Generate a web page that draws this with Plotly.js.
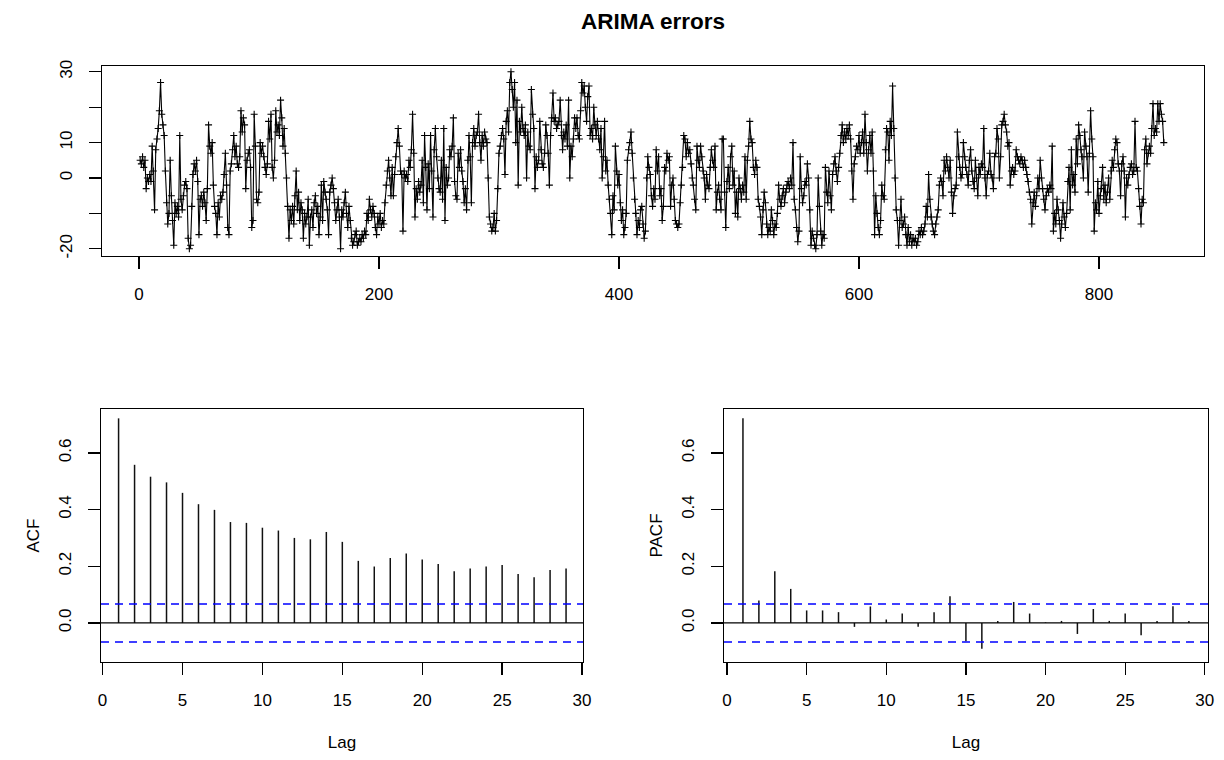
<!DOCTYPE html>
<html><head><meta charset="utf-8">
<script src="https://cdn.plot.ly/plotly-3.0.1.min.js"></script>
<style>html,body{margin:0;padding:0;background:#fff}#chart{width:1224px;height:760px}</style>
</head><body><div id="chart"></div>
<script>
// Residual series (ARIMA errors)
const errors = [
5,4,6,3,5,-3,0,-1,1,-1,
9,2,-9,8,11,14,19,27,18,15,
12,2,-7,-13,-10,5,-5,-12,-19,-7,
-10,-8,-11,12,-6,-9,-5,-2,-1,-3,
-17,-20,-19,-8,1,4,2,5,-1,-16,
-6,-5,-8,-4,-7,-12,-3,15,9,7,
10,-2,-8,-10,-16,-7,-11,-5,-6,-4,
1,7,-2,-14,-16,2,4,8,12,6,
9,4,3,6,19,13,17,15,-3,5,
7,8,3,-14,-12,18,9,-6,-7,-4,
10,7,9,6,3,1,4,16,11,18,
3,0,5,19,13,15,12,22,17,9,
14,7,0,-8,-17,-9,-12,-8,-13,-5,
2,-9,-4,-12,-7,-9,-17,-10,-13,-11,
-6,-19,-11,-9,-14,-7,-5,-10,-8,-16,
-11,-2,-12,-1,-4,-6,-9,-16,-4,-2,
0,-3,-7,-12,-9,-6,-11,-20,-9,-11,
-7,-4,-10,-14,-8,-12,-17,-19,-18,-16,
-15,-19,-18,-17,-18,-16,-17,-15,-16,-10,
-12,-6,-9,-11,-8,-10,-14,-16,-11,-13,
-10,-14,-12,-13,-7,-2,2,5,0,-5,
3,-5,1,6,10,14,9,2,1,-15,
2,0,1,-1,5,3,8,18,7,-11,
-3,-6,-1,-4,-2,5,-7,12,3,-9,
4,-3,12,2,-11,8,14,6,0,-3,
-4,5,-6,14,-12,3,-2,0,8,6,
9,17,-1,-5,-6,7,3,8,2,-1,
-7,-3,-9,5,12,6,-7,10,14,9,
12,13,18,10,5,12,9,13,11,10,
0,-11,-13,-15,-14,-10,-15,-12,-3,7,
9,12,14,11,1,16,19,13,27,30,
25,20,27,10,22,-2,16,13,20,14,
12,15,0,13,9,8,25,18,14,-3,
6,3,5,16,8,4,3,7,15,12,
7,-2,12,17,24,16,17,14,15,16,
22,12,8,13,11,15,9,22,0,9,
6,11,17,14,17,12,11,19,27,24,
26,20,16,23,26,12,14,11,20,15,
12,16,11,8,14,0,6,16,2,5,
-2,-6,-10,-16,-5,-9,9,2,-2,1,
-7,-12,-9,-16,-14,-10,5,8,10,13,
7,0,-6,-10,-16,-12,-14,-9,-8,-13,
-17,-15,0,6,3,1,-5,-8,-3,-6,
8,2,6,-5,-3,-12,-8,3,2,7,
5,6,-8,-2,0,-6,-12,-13,-14,-13,
-7,-2,3,12,11,6,10,7,8,4,
0,-2,-6,-9,9,5,3,9,6,2,
0,-6,1,-2,-3,3,8,5,3,9,
-9,-4,-2,-6,-9,11,11,-4,-14,-1,
3,-3,6,9,-2,2,-10,-4,-11,0,
-3,-6,-2,-4,6,-6,5,9,16,11,
10,3,1,5,3,-6,-8,-11,-16,-9,
-4,-7,-13,-16,-14,-15,-9,-12,-16,-13,
-14,-10,-2,-6,-8,-5,-3,-7,-4,-2,
-1,-3,0,-2,10,-6,-9,-14,-18,-15,
6,-3,-7,-5,-1,-2,4,0,-9,-19,
-15,-17,-19,-20,-16,0,-8,-15,-19,-16,
-17,3,-4,-7,2,-5,-9,1,4,6,
2,-1,3,7,12,15,10,13,11,14,
12,15,11,2,-6,4,6,9,8,12,
7,10,13,7,18,10,2,8,12,7,
13,2,-16,-5,-10,-14,-16,-12,-2,-5,
-6,8,14,13,5,16,12,26,14,0,
-9,-12,-19,-12,-6,-14,-13,-11,-16,-19,
-14,-18,-16,-19,-17,-18,-17,-19,-18,-15,
-16,-14,-16,-15,-13,-8,-11,1,-6,-11,
-13,-15,-16,-13,-11,-9,-2,0,-1,-5,
5,2,6,3,0,5,-4,-10,-5,-3,
-2,13,6,3,0,1,10,6,3,1,
-2,5,8,2,-1,-3,5,0,-5,3,
1,4,3,14,0,-5,1,2,7,1,
0,-3,6,7,14,11,0,6,15,16,
18,15,13,9,10,-2,2,3,1,2,
8,6,5,4,6,5,3,5,3,1,
-1,-4,-6,-13,-7,-4,-8,-5,0,-3,
5,0,-3,-6,-9,-5,-3,-4,-2,-3,
9,-15,-10,-13,-6,-9,-12,-17,-13,-7,
-11,-14,-10,-1,3,-9,8,-2,1,-4,
11,4,15,12,8,6,0,13,9,6,
-4,7,19,11,6,-15,-7,-9,-1,-10,
-5,-3,3,-6,-2,-7,-4,0,-6,2,
5,3,8,11,10,4,2,-5,4,6,
2,-11,0,-2,1,3,4,1,2,16,
3,2,-3,-8,-13,-6,-7,8,11,4,
7,9,7,14,21,12,14,13,21,16,
21,18,16,10
];
const lags = [1,2,3,4,5,6,7,8,9,10,11,12,13,14,15,16,17,18,19,20,21,22,23,24,25,26,27,28,29];
const acfValues = [0.722,0.558,0.516,0.496,0.459,0.419,0.399,0.356,0.353,0.336,0.326,0.300,0.295,0.321,0.286,0.219,0.199,0.229,0.245,0.224,0.208,0.182,0.192,0.199,0.204,0.173,0.161,0.187,0.192];
const pacfValues = [0.722,0.079,0.182,0.120,0.044,0.044,0.038,-0.014,0.058,0.012,0.033,-0.014,0.038,0.094,-0.065,-0.091,0.007,0.074,0.033,0.002,0.007,-0.039,0.049,0.007,0.033,-0.044,0.007,0.059,0.007];
const ciBound = 0.067;
const seriesTickVals = [0,200,400,600,800];
const seriesYTickVals = [-20,-10,0,10,20,30];
const seriesYTickText = ['-20','','0','10','','30'];
const lagTickVals = [0,5,10,15,20,25,30];
const corrTickVals = [0,0.2,0.4,0.6];
const corrTickText = ['0.0','0.2','0.4','0.6'];

const timeIndex = errors.map((_, i) => i + 1);
function spikes(vals, xa, ya) {
  const xs = [], ys = [];
  lags.forEach((k, i) => { xs.push(k, k, null); ys.push(0, vals[i], null); });
  return {x: xs, y: ys, xaxis: xa, yaxis: ya, type: 'scatter', mode: 'lines',
          line: {color: '#111', width: 1.5}, hoverinfo: 'skip', showlegend: false};
}

const FONT = 'Liberation Sans, Arial, sans-serif';
const W = 1224, H = 760;
const common = {
  showline: true, linecolor: 'black', linewidth: 1.3, mirror: true,
  ticks: 'outside', ticklen: 12, tickwidth: 1.3, tickcolor: 'black',
  showgrid: false, zeroline: false, fixedrange: true,
  tickfont: {family: FONT, size: 17, color: 'black'}
};
function xd(a, b) { return [a / W, b / W]; }
function yd(top, bottom) { return [1 - bottom / H, 1 - top / H]; }

const traces = [
  {x: timeIndex, y: errors, type: 'scatter', mode: 'lines+markers',
   line: {color: 'black', width: 1.1},
   marker: {symbol: 'cross-thin', size: 5, color: 'black', line: {color: 'black', width: 1.1}},
   xaxis: 'x', yaxis: 'y', showlegend: false},
  spikes(acfValues, 'x2', 'y2'),
  spikes(pacfValues, 'x3', 'y3')
];

function refLines(xa, ya) {
  return [
    {type: 'line', xref: xa + ' domain', yref: ya, x0: 0, x1: 1, y0: 0, y1: 0,
     line: {color: 'black', width: 1.3}},
    {type: 'line', xref: xa + ' domain', yref: ya, x0: 0, x1: 1, y0: ciBound, y1: ciBound,
     line: {color: '#0000ff', width: 1.5, dash: '8px,6px'}},
    {type: 'line', xref: xa + ' domain', yref: ya, x0: 0, x1: 1, y0: -ciBound, y1: -ciBound,
     line: {color: '#0000ff', width: 1.5, dash: '8px,6px'}}
  ];
}

const layout = {
  width: W, height: H, margin: {l: 0, r: 0, t: 0, b: 0},
  paper_bgcolor: 'white', plot_bgcolor: 'white', showlegend: false,
  font: {family: FONT, color: 'black', size: 17},
  title: {text: '<b>ARIMA errors</b>', font: {family: FONT, size: 22.5, color: 'black'},
          x: 653 / W, xanchor: 'center', xref: 'paper', y: 1 - 21 / H, yanchor: 'middle', yref: 'paper'},
  xaxis: Object.assign({}, common, {domain: xd(102, 1204), range: [-30.8, 887.5],
          tickvals: seriesTickVals, ticklabelstandoff: 10, anchor: 'y'}),
  yaxis: Object.assign({}, common, {domain: yd(66, 256), range: [-22.03, 31.64],
          tickvals: seriesYTickVals, ticktext: seriesYTickText, tickangle: -90,
          ticklabelstandoff: 10, anchor: 'x'}),
  xaxis2: Object.assign({}, common, {domain: xd(101, 583), range: [-0.1, 30.06],
          tickvals: lagTickVals, ticklabelstandoff: 10, anchor: 'y2',
          title: {text: 'Lag', font: {family: FONT, size: 17}, standoff: 27}}),
  yaxis2: Object.assign({}, common, {domain: yd(409, 662), range: [-0.138, 0.755],
          tickvals: corrTickVals, ticktext: corrTickText, tickangle: -90,
          ticklabelstandoff: 10, anchor: 'x2',
          title: {text: 'ACF', font: {family: FONT, size: 17}, standoff: 12}}),
  xaxis3: Object.assign({}, common, {domain: xd(724, 1208), range: [-0.19, 30.2],
          tickvals: lagTickVals, ticklabelstandoff: 10, anchor: 'y3',
          title: {text: 'Lag', font: {family: FONT, size: 17}, standoff: 27}}),
  yaxis3: Object.assign({}, common, {domain: yd(409, 662), range: [-0.138, 0.755],
          tickvals: corrTickVals, ticktext: corrTickText, tickangle: -90,
          ticklabelstandoff: 10, anchor: 'x3',
          title: {text: 'PACF', font: {family: FONT, size: 17}, standoff: 12}}),
  shapes: [].concat(refLines('x2', 'y2'), refLines('x3', 'y3'))
};

Plotly.newPlot('chart', traces, layout, {displayModeBar: false, staticPlot: true});
</script>
</body></html>
